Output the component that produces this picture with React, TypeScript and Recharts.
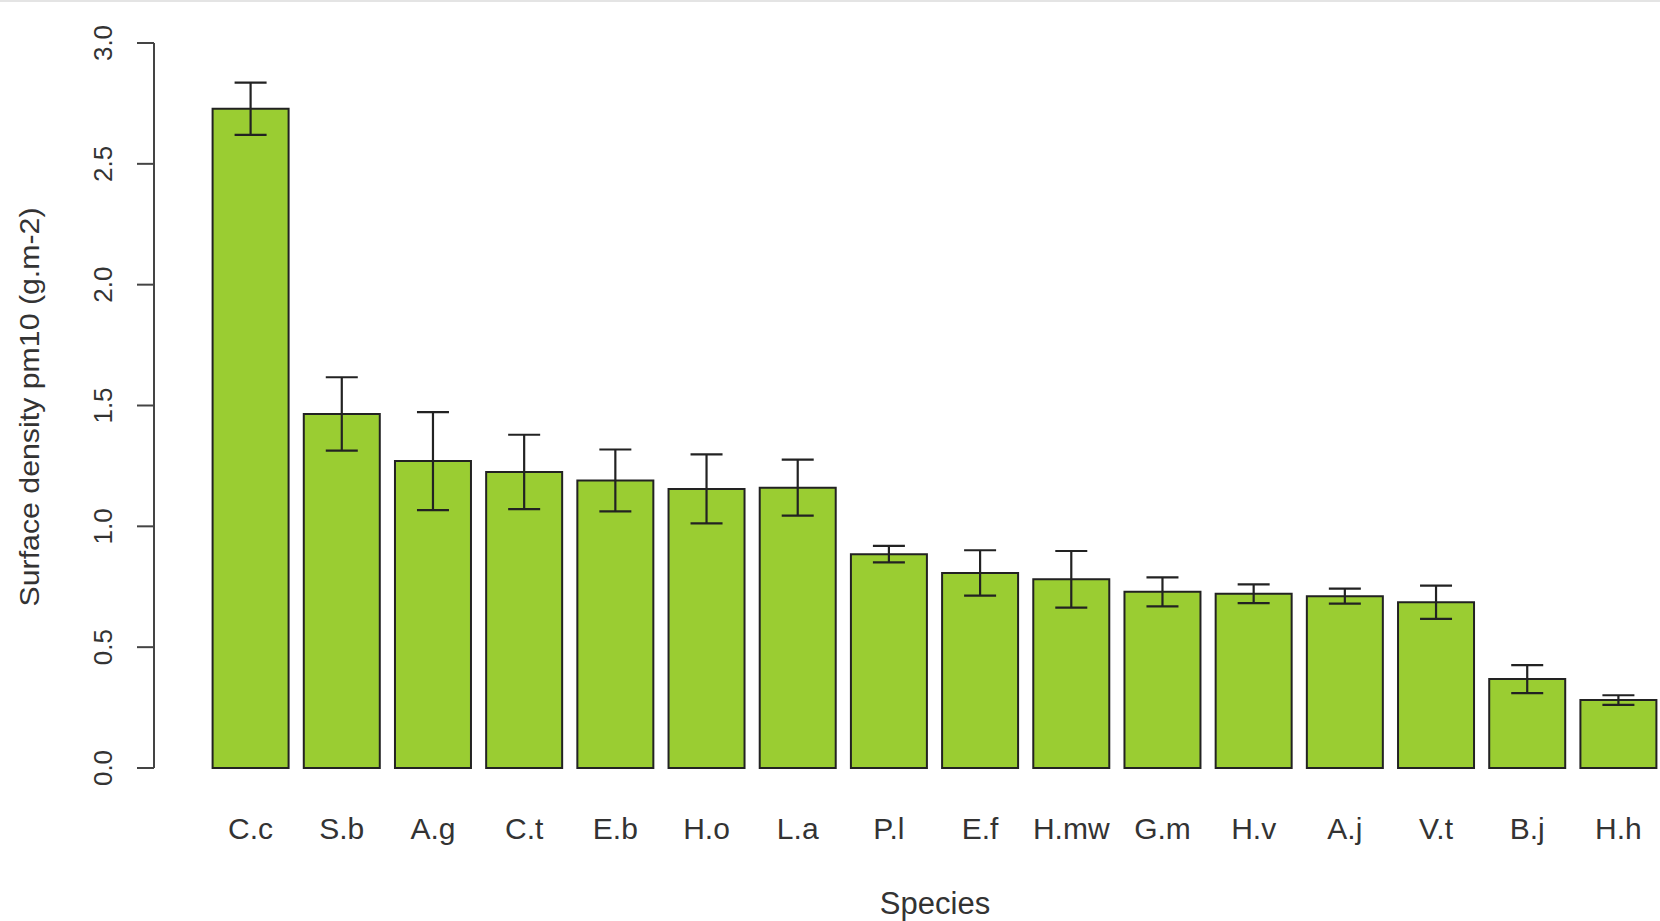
import { BarChart, Bar, XAxis, YAxis, ErrorBar } from 'recharts';

// species codes, in plotted order
const species = ['C.c', 'S.b', 'A.g', 'C.t', 'E.b', 'H.o', 'L.a', 'P.l', 'E.f', 'H.mw', 'G.m', 'H.v', 'A.j', 'V.t', 'B.j', 'H.h'];
// mean surface density pm10 (g.m-2)
const density = [2.728, 1.465, 1.27, 1.225, 1.19, 1.155, 1.16, 0.885, 0.807, 0.781, 0.729, 0.721, 0.711, 0.686, 0.368, 0.281];
// error (half length of the whiskers)
const spread = [0.108, 0.152, 0.203, 0.154, 0.128, 0.143, 0.116, 0.034, 0.094, 0.117, 0.06, 0.039, 0.031, 0.069, 0.058, 0.02];
const yTicks = [0, 0.5, 1, 1.5, 2, 2.5, 3];

const data = species.map((name, i) => ({ name, value: density[i], err: spread[i] }));

const FONT = '"Liberation Sans", Arial, sans-serif';
const INK = '#333';

function SpeciesTick(props: any) {
  const { x, y, payload } = props;
  return (
    <text x={x} y={y + 71} textAnchor="middle" fontSize={30} fill={INK} fontFamily={FONT}>
      {payload.value}
    </text>
  );
}

function DensityTick(props: any) {
  const { x, y, payload } = props;
  return (
    <text
      x={0}
      y={0}
      transform={`translate(${x - 25},${y}) rotate(-90)`}
      textAnchor="middle"
      fontSize={26}
      fill={INK}
      fontFamily={FONT}
    >
      {Number(payload.value).toFixed(1)}
    </text>
  );
}

function SpeciesTitle() {
  return (
    <text x={935} y={912} textAnchor="middle" fontSize={31} fill={INK} fontFamily={FONT}>
      Species
    </text>
  );
}

function DensityTitle() {
  return (
    <text
      x={0}
      y={0}
      transform="translate(39,405) rotate(-90)"
      textAnchor="middle"
      fontSize={28}
      textLength={399}
      lengthAdjust="spacingAndGlyphs"
      fill={INK}
      fontFamily={FONT}
    >
      Surface density pm10 (g.m-2)
    </text>
  );
}

export default function App() {
  return (
    <div
      style={{
        position: 'absolute',
        left: 0,
        top: 0,
        width: 1660,
        height: 921,
        overflow: 'hidden',
        background: '#fff',
        boxSizing: 'border-box',
        borderTop: '2px solid #e4e4e4',
      }}
    >
      <BarChart
        width={1664}
        height={919}
        data={data}
        margin={{ top: 41, right: 0, bottom: 0, left: 0 }}
        barCategoryGap="8.33%"
      >
        <XAxis
          dataKey="name"
          height={153}
          axisLine={false}
          tickLine={false}
          tickSize={0}
          tickMargin={0}
          interval={0}
          padding={{ left: 51, right: 0 }}
          tick={<SpeciesTick />}
          label={<SpeciesTitle />}
        />
        <YAxis
          width={154}
          domain={[0, 3]}
          ticks={yTicks}
          tickSize={17}
          tickMargin={0}
          axisLine={{ stroke: '#444', strokeWidth: 2 }}
          tickLine={{ stroke: '#444', strokeWidth: 2 }}
          tick={<DensityTick />}
          label={<DensityTitle />}
        />
        <Bar dataKey="value" fill="#9acd32" stroke="#222" strokeWidth={2} isAnimationActive={false}>
          <ErrorBar dataKey="err" width={16} stroke="#222" strokeWidth={2.2} isAnimationActive={false} />
        </Bar>
      </BarChart>
    </div>
  );
}
